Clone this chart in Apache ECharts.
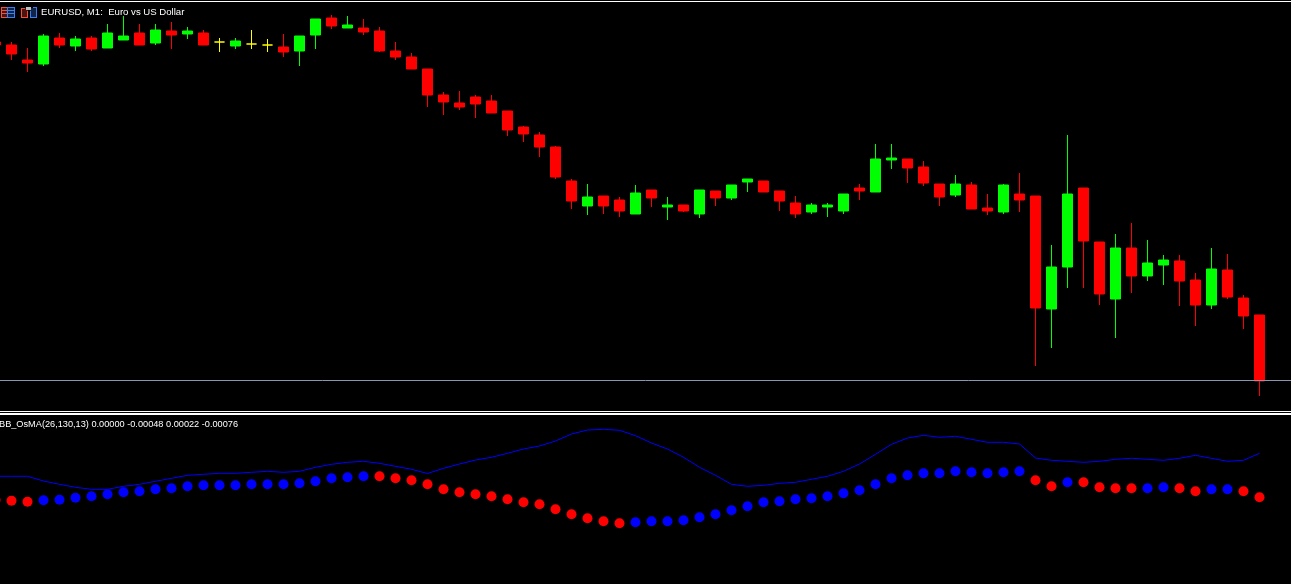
<!DOCTYPE html>
<html><head><meta charset="utf-8">
<style>html,body{margin:0;padding:0;background:#000;overflow:hidden}#c{width:1291px;height:584px}</style>
<script src="https://cdn.jsdelivr.net/npm/echarts@6/dist/echarts.min.js"></script>
</head><body><div id="c"></div>
<script>
// Prices are in points above the pane's base price; one value per bar.
const opens=[370,367,352,348,374,366,374,364,372,379,369,381,378,379,370,366,368,367,365,361,377,394,384,384,381,361,355,343,317,309,315,311,301,285,277,265,231,206,216,212,198,222,205,207,198,221,214,230,231,221,209,200,205,201,224,220,252,253,245,228,217,227,204,200,218,216,103,145,224,170,113,164,136,147,151,132,107,142,114,97];
const closes=[367,358,349,376,367,373,363,379,376,367,382,377,381,367,370,371,368,367,360,376,393,386,387,380,361,355,343,317,310,305,308,299,282,278,265,235,211,215,206,201,219,214,207,201,222,214,227,233,220,211,198,207,207,218,221,253,254,244,229,215,228,203,201,227,212,104,145,218,171,118,164,136,149,152,131,107,143,115,96,31];
const lows=[367,352,340,346,364,361,361,364,372,367,367,363,373,367,360,363,363,360,355,346,363,383,384,377,360,352,343,305,297,302,294,299,276,270,255,233,203,197,198,195,198,205,192,200,194,206,212,220,220,201,194,198,195,198,212,220,243,229,226,206,215,203,197,198,200,46,64,124,124,107,74,119,131,127,106,86,103,113,83,16];
const highs=[370,370,364,378,379,376,376,388,396,388,388,390,385,382,374,374,382,373,378,376,393,397,396,393,385,370,359,343,320,321,317,317,301,286,280,266,233,228,216,215,227,222,215,207,222,221,227,233,231,221,216,209,209,218,228,268,268,253,251,228,237,230,218,228,239,216,167,277,224,170,178,189,172,157,157,139,164,158,117,97];
const currentPrice=32;
// Oscillator values, in indicator points above the pane floor.
const signalLine=[107.7,107.7,107.7,103,99.7,96.7,94.7,94.7,97.7,99.7,102.7,105.7,108.7,109.7,110.7,110.7,111.7,112.7,111.7,112.7,116.7,119.7,121.7,122.7,120.7,117.7,114.7,110.5,115.7,120,124,126.7,130.7,135,138,143,150,154,154.7,153.7,148.3,141,135,126.7,116.7,108.7,99.7,97.7,98.7,100.7,101.7,104.7,107.7,112.7,120,129.7,139.7,146,148.7,146.7,147.7,144.7,141.7,141.7,140,126,123.7,122.7,121.7,122.7,124.7,125.7,124.7,123.7,125.7,128.7,125.7,122.7,123.7,130.7];
const osmaDots=[84,83.3,82.3,83.7,84.3,86.3,87.7,89.7,91.7,92.7,94.7,95.7,97.7,98.7,98.7,98.7,99.7,99.7,99.7,100.7,102.7,105.7,106.7,107.7,107.7,105.7,103.7,99.7,94.7,91.7,89.7,87.7,84.7,81.7,79.7,74.7,69.7,65.7,62.7,60.7,61.7,62.7,62.7,63.7,66.7,69.7,73.7,77.7,81.7,82.7,84.7,85.7,87.7,90.7,93.7,99.7,105.7,108.7,110.7,110.7,112.7,111.7,110.7,111.7,112.7,103.7,97.7,101.7,101.7,96.7,95.7,95.7,95.7,96.7,95.7,92.7,94.7,94.7,92.7,86.7];
const osmaRising=[0,0,0,1,1,1,1,1,1,1,1,1,1,1,1,1,1,1,1,1,1,1,1,1,0,0,0,0,0,0,0,0,0,0,0,0,0,0,0,0,1,1,1,1,1,1,1,1,1,1,1,1,1,1,1,1,1,1,1,1,1,1,1,1,1,0,0,1,0,0,0,0,1,1,0,0,1,1,0,0];
const bars=opens.map((_,i)=>String(i));
const chartTitle='EURUSD, M1:  Euro vs US Dollar';
const indicatorTitle='BB_OsMA(26,130,13) 0.00000 -0.00048 0.00022 -0.00076';

const chart=echarts.init(document.getElementById('c'),null,{renderer:'canvas'});
const hiddenX=i=>({type:'category',gridIndex:i,data:bars,show:false,boundaryGap:true});
const white='#ffffff';
const rect=(x,y,w,h,fill)=>({type:'rect',shape:{x,y,width:w,height:h},style:{fill},silent:true,z:20});
const iconRed='#f4503c', iconBlue='#3a7ff0', iconGrey='#c0c0c0', iconRedFill='#4a1410', iconBlueFill='#10244a';
const pricePaneHeight=412;
chart.setOption({
  animation:false,backgroundColor:'#000',
  grid:[
    {left:-12.5,width:1280,top:0,height:pricePaneHeight,show:false,outerBoundsMode:'none'},
    {left:-12.5,width:1280,top:415,height:169,show:false,outerBoundsMode:'none'}
  ],
  xAxis:[hiddenX(0),hiddenX(1)],
  yAxis:[
    {type:'value',gridIndex:0,min:0,max:pricePaneHeight,show:false,splitLine:{show:false}},
    {type:'value',gridIndex:1,min:0,max:169,show:false,splitLine:{show:false}}
  ],
  title:[
    {text:chartTitle,left:41,top:6,padding:0,textStyle:{color:white,fontFamily:'Liberation Sans',fontSize:9.6,fontWeight:'normal',lineHeight:13}},
    {text:indicatorTitle,left:-1,top:418,padding:0,textStyle:{color:white,fontFamily:'Liberation Sans',fontSize:9.2,fontWeight:'normal',lineHeight:13}}
  ],
  series:[
    {type:'candlestick',xAxisIndex:0,yAxisIndex:0,barWidth:11,
      data:opens.map((o,i)=>[o,closes[i],lows[i],highs[i]]),
      itemStyle:{color:'#00ff00',color0:'#ff0000',borderColor:'#00ff00',borderColor0:'#ff0000',borderColorDoji:'#ffff00',borderWidth:1},
      markLine:{silent:true,symbol:'none',label:{show:false},animation:false,
        lineStyle:{color:'#8a96b0',width:1,type:'solid'},
        data:[[{x:0,y:pricePaneHeight-currentPrice+0.5},{x:1291,y:pricePaneHeight-currentPrice+0.5}]]}},
    {type:'line',xAxisIndex:1,yAxisIndex:1,data:signalLine,showSymbol:false,symbol:'none',
      lineStyle:{color:'#0000ff',width:1},z:3},
    {type:'scatter',xAxisIndex:1,yAxisIndex:1,symbolSize:10,itemStyle:{color:'#0000ff',opacity:1},z:4,
      data:osmaDots.map((v,i)=>osmaRising[i]?v:null)},
    {type:'scatter',xAxisIndex:1,yAxisIndex:1,symbolSize:10,itemStyle:{color:'#ff0000',opacity:1},z:4,
      data:osmaDots.map((v,i)=>osmaRising[i]?null:v)}
  ],
  graphic:[
    rect(0,1,1291,1,white),rect(0,411,1291,1,white),rect(0,413,1291,2,white),
    // left toolbar icon
    rect(1,7,6,11,iconRedFill),rect(7,7,8,11,iconBlueFill),
    rect(1,7,6,1,iconRed),rect(1,17,6,1,iconRed),rect(1,7,1,11,iconRed),rect(1,10,6,1,iconRed),rect(1,13,6,1,iconRed),
    rect(7,7,8,1,iconBlue),rect(7,17,8,1,iconBlue),rect(14,7,1,11,iconBlue),rect(7,7,1,11,iconBlue),rect(8,10,6,1,iconBlue),rect(8,13,6,1,iconBlue),
    // right toolbar icon
    rect(21,8,7,10,iconRedFill),rect(30,8,7,10,iconBlueFill),rect(28,7,2,11,'#000'),
    rect(21,8,1,10,iconRed),rect(21,17,7,1,iconRed),rect(27,11,1,7,iconRed),rect(21,8,4,1,iconRed),
    rect(26,7,5,3,iconGrey),rect(30,17,7,1,iconBlue),rect(30,11,1,7,iconBlue),rect(36,7,1,11,iconBlue),rect(33,7,4,1,iconBlue)
  ]
});
</script></body></html>
